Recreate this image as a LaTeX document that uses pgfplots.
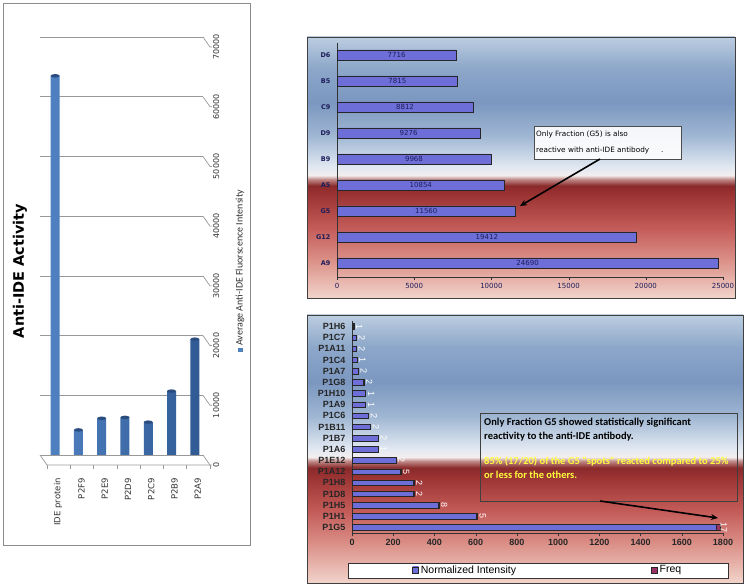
\documentclass[border=0pt]{standalone}
\usepackage{fontspec}
\setmainfont{DejaVu Sans}
\newfontfamily\arialf{Liberation Sans}
\newfontfamily\calib{Carlito}
\usepackage{graphicx}
\usepackage{pgfplots}
\pgfplotsset{compat=1.18}
\usepackage{pgfplotstable}
\usetikzlibrary{arrows.meta,shapes.geometric}

% cylinders (left chart)
\definecolor{cylL}{HTML}{4F80C0}
\definecolor{cylM}{HTML}{86B0E4}
\definecolor{cylR}{HTML}{2F5A94}
\definecolor{cyltop}{HTML}{2A4C7E}
\definecolor{legblue}{HTML}{4F81BD}
% lavender bars (right charts)
\definecolor{lavE}{HTML}{6E6ED8}
\definecolor{lavM}{HTML}{CCCCFF}
\definecolor{freqc}{HTML}{993366}
\definecolor{navytxt}{HTML}{1C1C5A}
\definecolor{notey}{HTML}{FFFF3C}
% panel background
\definecolor{bg0}{HTML}{F2D4CB}
\definecolor{bg1}{HTML}{DA8E86}
\definecolor{bg2}{HTML}{C35B58}
\definecolor{bg3}{HTML}{9A3232}
\definecolor{bg4}{HTML}{8A2A2B}
\definecolor{bg5}{HTML}{C08A88}
\definecolor{bg6}{HTML}{F3EEEE}
\definecolor{bg7}{HTML}{E2E9F2}
\definecolor{bg8}{HTML}{A0B7D3}
\definecolor{bg9}{HTML}{7B97C0}
\definecolor{bg10}{HTML}{8CA7C9}
\definecolor{bg11}{HTML}{BCCDE0}

\pgfdeclareverticalshading{panelbg}{100bp}{%
  color(0bp)=(bg0); color(25bp)=(bg0); color(32.5bp)=(bg1);
  color(38.5bp)=(bg2); color(45bp)=(bg3); color(46.5bp)=(bg4);
  color(47.75bp)=(bg5); color(48.5bp)=(bg6); color(50bp)=(bg7);
  color(56bp)=(bg8); color(62.5bp)=(bg9); color(69bp)=(bg10);
  color(75bp)=(bg11); color(100bp)=(bg11)}

\pgfplotsset{
  scaled ticks=false,
  /pgf/number format/1000 sep={},
  /pgf/number format/assume math mode=true,
  sqlegend/.style={legend image code/.code={\draw[##1,draw=black!85,line width=0.6pt] (0pt,-3pt) rectangle (6pt,3pt);}},
}

% left chart: average anti-IDE fluorescence
\pgfplotstableread{
pos value
0 63500
1 4200
2 6150
3 6300
4 5500
5 10700
6 19400
}\leftdata

% top right chart
\pgfplotstableread{
pos value
8 7716
7 7815
6 8812
5 9276
4 9968
3 10854
2 11560
1 19412
0 24690
}\topdata

% bottom right chart
\pgfplotstableread{
pos val freq
18 8 1
17 20 2
16 20 2
15 24 1
14 29 2
13 56 2
12 66 1
11 66 1
10 79 2
9 89 2
8 127 2
7 127 1
6 213 2
5 234 5
4 299 2
3 299 2
2 417 8
1 605 5
0 1768 17
}\botdata

\begin{document}
\begin{tikzpicture}[x=1pt,y=1pt]
\useasboundingbox (0,0) rectangle (745,587);
\fill[white] (0,0) rectangle (745,587);

% panel frames and backgrounds
\draw[black!45, line width=0.8pt] (3,42) rectangle (250,584);
\shade[shading=panelbg] (307,289) rectangle (735,550);
\draw[black!75, line width=0.6pt] (307,289) rectangle (735,550);
\shade[shading=panelbg] (307,4) rectangle (743,272);
\draw[black!75, line width=0.6pt] (307,4) rectangle (743,272);
% legend frame of the bottom chart
\draw[black!80, fill=white, line width=0.6pt] (348,9) rectangle (728,24);

% ---------- left chart ----------
\node[rotate=90, font=\bfseries\fontsize{14.5}{16}\selectfont] at (20,316) {Anti-IDE Activity};
\node[rotate=90, font=\calib\fontsize{10}{11}\selectfont, text=black!80] at (240,316)
  {\textcolor{legblue}{\rule{4.5pt}{4.5pt}}\,Average Anti-IDE Fluorscence Intensity};

\begin{axis}[
  at={(40pt,132pt)}, anchor=south west, scale only axis,
  width=163pt, height=418pt,
  xmin=-0.65, xmax=6.35, ymin=0, ymax=70000,
  axis line style={draw=none},
  ymajorgrids, grid style={draw=black!40, line width=0.7pt},
  ytick={0,10000,20000,30000,40000,50000,60000,70000},
  yticklabel pos=right,
  ytick style={draw=none}, xtick style={draw=none},
  yticklabel style={xshift=9pt, yshift=-10pt, rotate=90, anchor=north, inner sep=1pt,
    font=\fontsize{8}{9}\selectfont, text=black!80},
  xtick={0,...,6},
  xticklabels={IDE protein,P2F9,P2E9,P2D9,P2C9,P2B9,P2A9},
  xticklabel style={xshift=3pt, yshift=-22pt, rotate=90, anchor=east, inner sep=1pt,
    font=\fontsize{8.5}{9}\selectfont, text=black!80},
  clip=false,
]
\addplot[ybar, bar width=9pt, draw=none, left color=cylL, middle color=cylM, right color=cylR,
  nodes near coords={},
  every node near coord/.append style={ellipse, fill=cyltop, draw=none, minimum width=9pt,
    minimum height=3.5pt, inner sep=0pt, anchor=center}]
  table[x=pos, y=value] {\leftdata};
\pgfplotsinvokeforeach{0,10000,20000,30000,40000,50000,60000,70000}{
  \draw[black!40, line width=0.7pt] (axis cs:6.35,#1) -- ++(7pt,-10pt) -- ++(2pt,0pt);
}
\draw[black!40, line width=0.7pt] (axis cs:-0.65,0) -- ++(7pt,-10pt) -- ++(163pt,0pt);
\pgfplotsinvokeforeach{-0.65,0.35,1.35,2.35,3.35,4.35,5.35,6.35}{
  \draw[black!40, line width=0.7pt] (axis cs:#1,0) ++(7pt,-10pt) -- ++(0pt,-4pt);
}
\end{axis}

% ---------- top right chart ----------
\begin{axis}[
  at={(337pt,310pt)}, anchor=south west, scale only axis,
  width=386pt, height=234pt,
  xmin=0, xmax=25000, ymin=-0.54, ymax=8.46,
  axis x line*=bottom, axis y line*=left,
  axis line style={black!80, line width=0.6pt},
  xtick={0,5000,10000,15000,20000,25000},
  ytick={0,...,8},
  yticklabels={A9,G12,G5,A5,B9,D9,C9,B5,D6},
  ytick style={draw=none},
  xtick style={black!80},
  tick align=outside, major tick length=3pt,
  xticklabel style={font=\fontsize{7}{8}\selectfont, text=navytxt},
  yticklabel style={font=\bfseries\fontsize{6.5}{8}\selectfont, text=navytxt},
  clip=false,
]
\addplot[xbar, bar width=10pt, draw=black!85, line width=0.8pt,
  top color=lavE, middle color=lavM, bottom color=lavE]
  table[x=value, y=pos] {\topdata};
\addplot[draw=none, mark=none, nodes near coords, point meta=explicit symbolic,
  every node near coord/.append style={anchor=center, font=\fontsize{7}{8}\selectfont, text=navytxt}]
  table[x expr=\thisrow{value}/2, y=pos, meta=value] {\topdata};
\end{axis}

\draw[black!70, fill=white, fill opacity=0.9] (534,428) rectangle (681,461);
\node[anchor=base west, font=\fontsize{7.3}{8}\selectfont, inner sep=0pt] at (536,450.5) {Only Fraction (G5) is also};
\node[anchor=base west, font=\fontsize{7.3}{8}\selectfont, inner sep=0pt] at (536,434.5) {reactive with anti-IDE antibody\hspace{12pt}.};
\draw[-{Stealth[length=7pt,width=6pt]}, line width=1.6pt] (600,428) -- (520,381);

% ---------- bottom right chart ----------
\begin{axis}[
  at={(352pt,54pt)}, anchor=south west, scale only axis,
  width=371pt, height=212pt,
  xmin=0, xmax=1800, ymin=-0.5, ymax=18.5,
  xbar stacked, bar width=5.5pt,
  axis x line*=bottom, axis y line*=left,
  axis line style={black!80, line width=0.6pt},
  xtick={0,200,...,1800},
  ytick={0,...,18},
  yticklabels={P1G5,P1H1,P1H5,P1D8,P1H8,P1A12,P1E12,P1A6,P1B7,P1B11,P1C6,P1A9,P1H10,P1G8,P1A7,P1C4,P1A11,P1C7,P1H6},
  ytick style={draw=none},
  xtick style={black!80},
  tick align=outside, major tick length=3pt,
  tick label style={font=\arialf\bfseries\fontsize{9}{10}\selectfont, text=black!85},
  legend style={at={(0.162,-0.1745)}, anchor=west, legend columns=2,
    draw=none, fill=none, inner sep=0pt,
    font=\arialf\fontsize{10.5}{11}\selectfont,
    /tikz/every even column/.append style={column sep=133pt}},
  clip=false,
]
\addplot[draw=black!85, line width=0.7pt, top color=lavE, middle color=lavM, bottom color=lavE, sqlegend]
  table[x=val, y=pos] {\botdata};
\addlegendentry{Normalized Intensity}
\addplot[draw=black!85, line width=0.7pt, fill=freqc, sqlegend,
  nodes near coords={\rotatebox{-90}{\pgfmathprintnumber{\pgfplotspointmeta}}},
  point meta=explicit,
  every node near coord/.append style={anchor=west, text=white, inner sep=2pt,
    font=\arialf\fontsize{9}{10}\selectfont}]
  table[x=freq, y=pos, meta=freq] {\botdata};
\addlegendentry{Freq}
\end{axis}

\draw[black!75, line width=0.6pt] (480,86) rectangle (737,174);
\node[anchor=base west, inner sep=0pt, font=\calib\bfseries\fontsize{10.5}{12}\selectfont] at (484,161) {Only Fraction G5 showed statistically significant};
\node[anchor=base west, inner sep=0pt, font=\calib\bfseries\fontsize{10.5}{12}\selectfont] at (484,147) {reactivity to the anti-IDE antibody.};
\node[anchor=base west, inner sep=0pt, font=\calib\bfseries\fontsize{10.5}{12}\selectfont, text=notey] at (484,122) {85\% (17/20) of the G5 "spots" reacted compared to 25\%};
\node[anchor=base west, inner sep=0pt, font=\calib\bfseries\fontsize{10.5}{12}\selectfont, text=notey] at (484,108) {or less for the others.};
\draw[-{Stealth[length=7pt,width=6pt]}, line width=1.6pt] (600,86) -- (718,69);

\end{tikzpicture}
\end{document}
